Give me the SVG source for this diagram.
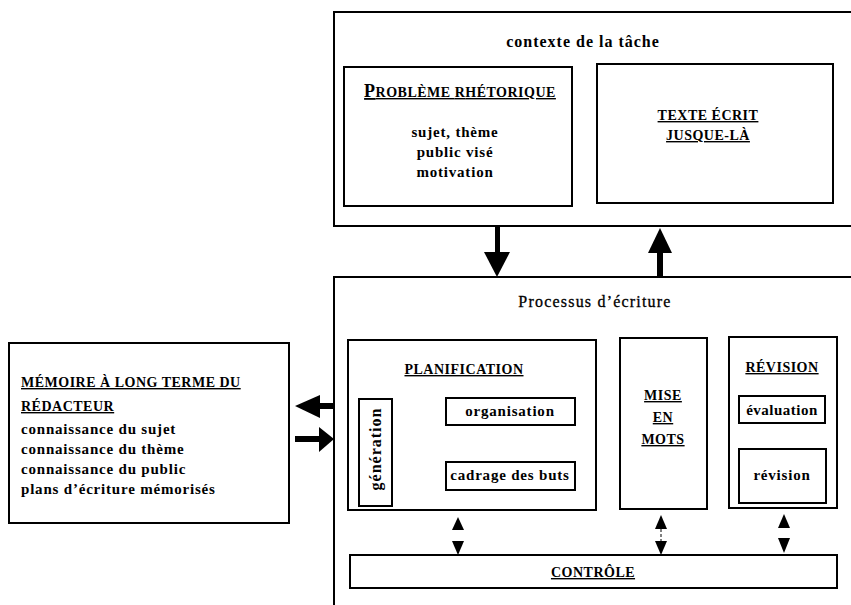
<svg xmlns="http://www.w3.org/2000/svg" width="851" height="605" viewBox="0 0 851 605">
<style>
  .box { fill: #fff; stroke: #000; stroke-width: 2; }
  .frame { fill: none; stroke: #000; stroke-width: 2; }
  text { font-family: "Liberation Serif", "Times New Roman", serif; font-weight: bold; fill: #000; }
  .t15 { font-size: 15px; letter-spacing: 0.8px; }
  .cap { font-size: 14px; letter-spacing: 0.5px; }
  .u { text-decoration: underline; }
  .mid { text-anchor: middle; }
  .arrow { fill: #000; stroke: none; }
  .dash { stroke: #000; stroke-width: 1; stroke-dasharray: 3 2; }
</style>
<rect width="851" height="605" fill="#fff"/>

<g id="contexte">
  <path class="frame" d="M860 12 H334 V226 H860"/>
  <text class="mid" x="583" y="47" style="font-size:16px;letter-spacing:1px">contexte de la tâche</text>
</g>

<g id="probleme">
  <rect class="box" x="344" y="67" width="228" height="139"/>
  <text class="mid u" x="460" y="97" style="letter-spacing:0.5px"><tspan font-size="18">P</tspan><tspan font-size="14">ROBLÈME </tspan><tspan font-size="14">R</tspan><tspan font-size="14">HÉTORIQUE</tspan></text>
  <text class="t15 mid" x="455" y="137">sujet, thème</text>
  <text class="t15 mid" x="455" y="157">public visé</text>
  <text class="t15 mid" x="455" y="177">motivation</text>
</g>

<g id="texte">
  <rect class="box" x="597" y="64" width="236" height="139"/>
  <text class="cap mid u" x="708" y="120">TEXTE ÉCRIT</text>
  <text class="cap mid u" x="708" y="140">JUSQUE-LÀ</text>
</g>

<g id="processus">
  <path class="frame" d="M860 277 H334 V610"/>
  <text class="mid" x="595" y="307" style="font-size:16px;font-weight:normal;letter-spacing:1.2px;stroke:#000;stroke-width:0.3">Processus d’écriture</text>
</g>

<g id="memoire">
  <rect class="box" x="9" y="343" width="280" height="180"/>
  <text class="cap u" x="21" y="387">MÉMOIRE À LONG TERME DU</text>
  <text class="cap u" x="21" y="411">RÉDACTEUR</text>
  <text class="t15" x="21" y="434">connaissance du sujet</text>
  <text class="t15" x="21" y="454">connaissance du thème</text>
  <text class="t15" x="21" y="474">connaissance du public</text>
  <text class="t15" x="21" y="494">plans d’écriture mémorisés</text>
</g>

<g id="planification">
  <rect class="box" x="348" y="340" width="248" height="170"/>
  <text class="cap mid u" x="464" y="374">PLANIFICATION</text>
</g>

<g id="generation">
  <rect class="box" x="359" y="399" width="33" height="107"/>
  <text class="mid" transform="translate(381 449) rotate(-90)" x="0" y="0" style="font-size:16px;letter-spacing:1px">génération</text>
</g>

<g id="organisation">
  <rect class="box" x="446" y="398" width="129" height="27"/>
  <text class="t15 mid" x="510" y="416">organisation</text>
</g>

<g id="cadrage">
  <rect class="box" x="446" y="462" width="129" height="28"/>
  <text class="t15 mid" x="510" y="480">cadrage des buts</text>
</g>

<g id="miseenmots">
  <rect class="box" x="620" y="338" width="87" height="171"/>
  <text class="cap mid u" x="663" y="400">MISE</text>
  <text class="cap mid u" x="663" y="422">EN</text>
  <text class="cap mid u" x="663" y="444">MOTS</text>
</g>

<g id="revision">
  <rect class="box" x="729" y="337" width="108" height="171"/>
  <text class="cap mid u" x="782" y="372">RÉVISION</text>
</g>

<g id="evaluation">
  <rect class="box" x="739" y="396" width="86" height="27"/>
  <text class="t15 mid" x="782" y="415" style="letter-spacing:0.5px">évaluation</text>
</g>

<g id="revision2">
  <rect class="box" x="739" y="449" width="87" height="54"/>
  <text class="t15 mid" x="782" y="480">révision</text>
</g>

<g id="controle">
  <rect class="box" x="350" y="555" width="487" height="33"/>
  <text class="cap mid u" x="593" y="577">CONTRÔLE</text>
</g>

<g id="connectors">
  <!-- contexte -> processus -->
  <rect class="arrow" x="495" y="226" width="5" height="27"/>
  <polygon class="arrow" points="484,252 510,252 497,277"/>
  <!-- processus -> texte -->
  <rect class="arrow" x="657" y="252" width="6" height="26"/>
  <polygon class="arrow" points="648,253 672,253 660,228"/>
  <!-- processus -> memoire -->
  <rect class="arrow" x="318" y="403" width="16" height="6"/>
  <polygon class="arrow" points="320,395 320,418 295,406"/>
  <!-- memoire -> processus -->
  <rect class="arrow" x="295" y="436" width="25" height="6"/>
  <polygon class="arrow" points="319,427 319,452 334,439"/>
  <!-- planification <-> controle -->
  <polygon class="arrow" points="458,517 452,530 464,530"/>
  <polygon class="arrow" points="452,541 464,541 458,555"/>
  <!-- mise en mots <-> controle -->
  <polygon class="arrow" points="661,515 655,529 667,529"/>
  <line class="dash" x1="661" y1="529" x2="661" y2="541"/>
  <polygon class="arrow" points="655,541 667,541 661,555"/>
  <!-- revision <-> controle -->
  <polygon class="arrow" points="784,514 778,528 790,528"/>
  <polygon class="arrow" points="778,538 790,538 784,553"/>
</g>
</svg>
